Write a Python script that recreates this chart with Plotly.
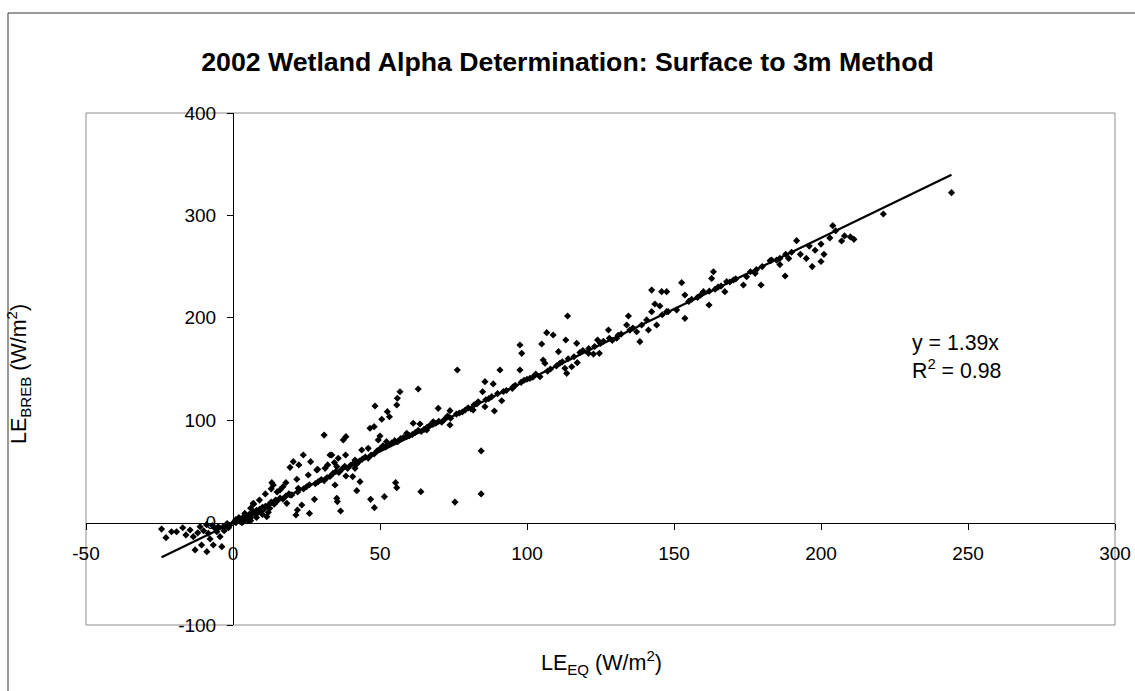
import plotly.graph_objects as go

# ---------------- data ----------------
le_eq = [
    -24.3, -22.8, -20.9, -19.2, -17.1, -16, -14.6, -13.5, -12.9, -11.2, -10.7, -10, -8.9, -8.4, -7.8, -7,
    -6.7, -5.5, -4.4, -3.8, -3.3, -2.2, -1.1, -9, -6, -5, -2, -12, -3, -1.5,
    0.5, 1, 1.5, 2, 2.5, 3, 3.5, 4, 4.5, 5, 5.5, 6, 6.5, 7, 7.5, 8, 8.5, 9, 9.5, 10, 10.5, 11, 12, 12.5,
    13, 14, 14.5, 15, 16, 17, 18, 19, 20, 5, 8, 10, 3, 6, 12, 6.9, 11.5, 9, 11, 13, 15, 17, 6, 7, 2, 4, 1, 3.5,
    23.9, 20.5, 22.4, 26.4, 33, 35.8, 38.3, 34.5, 32.2, 31.3, 28.8, 35.3, 25.6, 21.7, 18, 13.2, 13.7, 16,
    22.2, 19.4, 18.3, 21.9, 21.4, 23.4, 26, 27.7, 34.7, 35.3, 35.5, 36.6, 38.4, 40.7, 41.5, 43.2, 42.1,
    46.8, 48.1, 51.5, 55.3, 55.7, 63.9,
    63, 56.8, 55.9, 55.7, 48.3, 52.5, 53.2, 50.6, 48, 46.6, 50, 49.4, 46, 43.8, 41.5, 37.5, 38.4, 31,
    33.6, 28.5, 19.4, 69.8, 73.8, 65.9, 59.1, 61.3, 52.2,
    75.5, 84.4, 84.4,
    191.7, 187.8, 179.6, 173.6, 183.2, 177.6, 163.4, 162.8, 161.9, 153.7, 152.6, 153.7, 147.5, 145.8,
    142.4, 143.5, 145.2, 142.4, 141.3, 144.1, 138.4, 137.3, 134.5, 133.9, 127.7, 124.6, 124, 120.9,
    116.9, 117.1, 113.8, 113.2, 110.7, 112.9, 113.5, 108.9, 106.7, 105, 105.5, 106.1, 97.6, 98.2, 97.6,
    90.8, 88.5, 85.7, 84.9, 91.4, 88.9, 85.7, 76.3, 73.8, 63.6, 68.1, 81.7, 83.4, 95.3, 101, 104.4,
    111.2, 115.2, 122.6, 130.5, 140.7, 147.5, 150.9, 160, 167.9, 170.2, 174.7, 182.7, 184.9, 167.3,
    22, 24, 25, 26, 28, 29, 30, 31, 32, 33, 34, 35, 36, 37, 38, 39, 40, 41, 42, 43, 44, 45, 46, 47, 48, 49, 50,
    51, 52, 53, 54, 55, 56, 57, 58, 59, 60, 61, 62, 63, 64, 65, 66, 67, 68, 69, 70, 71, 72, 73, 74, 76, 77,
    78, 79, 80, 81, 82, 83, 86, 87, 88, 90, 92, 93, 95, 96, 98, 99, 100,
    102, 103, 107, 108, 110, 112, 114, 116, 118, 119, 121, 123, 125, 126, 128, 129, 131, 132, 135, 136,
    139, 146, 148, 155, 156, 158, 159, 162, 164, 165, 166, 169, 171, 176, 178, 180, 186, 188, 190,
    211.2, 221.2, 244.4,
    193, 195, 196, 198, 200, 201, 203, 204, 205, 207, 208, 210, 200, 197, 189, 186,
]
le_breb = [
    -6.3, -14.7, -8.9, -8.9, -5, -12, -7.2, -13.7, -26.7, -4, -21.9, -8, -28.4, -10.5, -16, -3,
    -21.9, -8.9, -13.7, -23.5, -4, -3.5, -2.5, -2, -6, -4, -1, -10, -8, -5,
    1, 0, 2, 3, 1, 4, 5, 3, 7, 6, 8, 5, 9, 10, 8, 12, 10, 13, 11, 15, 13, 16, 17, 14,
    20, 18, 22, 21, 24, 23, 26, 28, 27, 2, 5, 8, 0, 2, 10, 18.8, 5.8, 22, 28, 33, 30, 35, 14, 18, 5, 9, 3, 1,
    66, 59.5, 56.3, 59.5, 66, 62.8, 66, 58.6, 56.3, 53, 52, 54.7, 46.5, 42.3, 39, 39, 36.7, 31.9,
    33.5, 27, 18.8, 12.3, 7.4, 17.2, 9, 22.7, 36.7, 23.7, 20.5, 11.3, 45.5, 44.9, 53, 40, 31.2,
    22.7, 14.6, 25.3, 39, 34.1, 30.2,
    130.5, 127.8, 121.4, 114.8, 113.9, 108.3, 103.4, 100.9, 93.7, 92.1, 84.6, 80.7, 72.5, 70.9, 61.1, 80.7, 83.9, 85.5,
    66, 51.4, 54, 111.6, 109.3, 90.4, 87.2, 97, 79,
    20, 28, 70,
    275.3, 240.8, 232, 232, 256.4, 243.4, 245, 238.5, 212.5, 199.5, 234.3, 222.3, 225.5, 225.5,
    227.1, 213.5, 211.5, 206, 188.1, 193, 176.7, 186.4, 201.8, 193, 188.1, 165.3, 178.3, 165.3,
    175.1, 156.2, 201.8, 178.3, 166.9, 150.7, 145.8, 183.2, 185.5, 174.4, 158.8, 155.6, 173.4, 165.3, 149,
    149, 135.4, 137.6, 127.8, 119, 109, 113.2, 149, 95.3, 96.3, 98.5, 110, 118, 132.7, 140.9, 142.5,
    155.6, 152.2, 164.6, 180, 197.9, 206, 207.6, 225.5, 235.3, 236.9, 240.1, 255.8, 256.4, 225.5,
    30, 33, 35, 37, 38, 40, 42, 41, 44, 45, 48, 50, 49, 52, 55, 53, 56, 58, 57, 60, 62, 64, 63, 66, 67, 70, 72,
    75, 74, 76, 78, 80, 79, 82, 83, 84, 85, 86, 88, 90, 89, 91, 93, 95, 96, 97, 99, 98, 101, 104, 102, 106, 107,
    108, 110, 112, 111, 115, 116, 120, 121, 123, 126, 128, 129, 131, 134, 137, 139, 140,
    142, 145, 148, 150, 153, 157, 160, 162, 166, 168, 170, 172, 175, 177, 180, 178, 183, 184, 188, 190,
    193, 203, 206, 216, 218, 220, 222, 226, 228, 230, 231, 235, 238, 245, 247, 250, 258, 262, 264,
    276.6, 301.4, 322.2,
    262, 258, 270, 266, 272, 262, 278, 290, 285, 275, 280, 279, 255, 250, 258, 252,
]

trend_slope = 1.39
trend_r2 = 0.98
trend_x = [min(le_eq), max(le_eq)]
trend_y = [trend_slope * v for v in trend_x]

x_ticks = [-50, 0, 50, 100, 150, 200, 250, 300]
y_ticks = [-100, 0, 100, 200, 300, 400]
x_range = [-50, 300]
y_range = [-100, 400]

title_text = "2002 Wetland Alpha Determination: Surface to 3m Method"
x_title = "LE<sub>EQ</sub> (W/m<sup>2</sup>)"
y_title = "LE<sub>BREB</sub> (W/m<sup>2</sup>)"

# ---------------- figure ----------------
FONT = "Liberation Sans, Arial, sans-serif"
W, H = 1135, 691
L, R, T, B = 86, 20, 113, 66
PW, PH = W - L - R, H - T - B


def px_x(p):
    return (p - L) / PW


def px_y(p):
    return (H - B - p) / PH


fig = go.Figure()
fig.add_trace(go.Scatter(
    x=le_eq, y=le_breb, mode="markers",
    marker=dict(symbol="diamond", size=5.5, color="black", line=dict(width=0)),
    showlegend=False, hoverinfo="x+y",
))
fig.add_trace(go.Scatter(
    x=trend_x, y=trend_y, mode="lines",
    line=dict(color="black", width=2.2),
    showlegend=False, hoverinfo="skip",
))

x_pos = (0 - x_range[0]) / (x_range[1] - x_range[0])
y_pos = (0 - y_range[0]) / (y_range[1] - y_range[0])

fig.update_layout(
    width=W, height=H,
    margin=dict(l=L, r=R, t=T, b=B, autoexpand=False),
    paper_bgcolor="white", plot_bgcolor="white",
    font=dict(family=FONT, size=20, color="black"),
    title=dict(text="<b>" + title_text + "</b>", x=0.5, xref="container", xanchor="center",
               y=1 - 62 / H, yref="container", yanchor="middle",
               font=dict(family=FONT, size=26.7, color="black")),
    xaxis=dict(range=x_range, tickvals=x_ticks, ticktext=[str(v) for v in x_ticks],
               showgrid=False, zeroline=False,
               showline=True, linecolor="black", linewidth=1,
               ticks="outside", ticklen=6, tickcolor="black", ticklabelstandoff=8,
               anchor="free", position=y_pos,
               tickfont=dict(family=FONT, size=19, color="black")),
    yaxis=dict(range=y_range, tickvals=y_ticks, ticktext=[str(v) for v in y_ticks],
               showgrid=False, zeroline=False,
               showline=True, linecolor="black", linewidth=1,
               ticks="outside", ticklen=6, tickcolor="black", ticklabelstandoff=7,
               anchor="free", position=x_pos,
               tickfont=dict(family=FONT, size=19, color="black")),
    shapes=[
        dict(type="rect", xref="paper", yref="paper", x0=0, x1=1, y0=0, y1=1,
             line=dict(color="#8c8c8c", width=1), fillcolor="rgba(0,0,0,0)", layer="below"),
        dict(type="rect", xref="paper", yref="paper",
             x0=px_x(8), x1=px_x(W + 10), y0=px_y(H + 10), y1=px_y(13),
             line=dict(color="#333333", width=1), fillcolor="rgba(0,0,0,0)", layer="below"),
    ],
    annotations=[
        dict(text="y = %.2fx<br>R<sup>2</sup> = %.2f" % (trend_slope, trend_r2),
             xref="paper", yref="paper", x=px_x(910), y=px_y(357),
             xanchor="left", yanchor="middle", align="left", showarrow=False,
             font=dict(family=FONT, size=21.3, color="black")),
        dict(text=x_title, xref="paper", yref="paper", x=px_x(601), y=px_y(662),
             xanchor="center", yanchor="middle", showarrow=False,
             font=dict(family=FONT, size=21.5, color="black")),
        dict(text=y_title, xref="paper", yref="paper", x=px_x(18), y=px_y(374),
             xanchor="center", yanchor="middle", showarrow=False, textangle=-90,
             font=dict(family=FONT, size=21.5, color="black")),
    ],
)

fig.write_html("out.html", config={"displayModeBar": False},
               post_script="document.body.style.margin='0';document.body.style.overflow='hidden';")
